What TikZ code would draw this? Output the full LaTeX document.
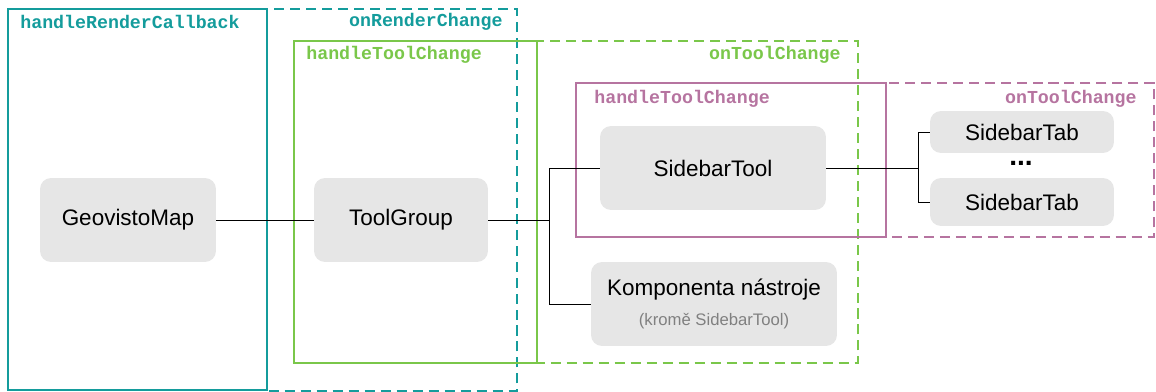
\documentclass[tikz,border=0pt]{standalone}
\usepackage{fontspec}
\setmainfont{Liberation Sans}
\setmonofont{Liberation Mono}
\usetikzlibrary{positioning}

\definecolor{tealc}{HTML}{149C9C}
\definecolor{greenc}{HTML}{7AC74A}
\definecolor{purplec}{HTML}{B674A0}
\definecolor{boxfill}{HTML}{E6E6E6}

\tikzset{
	comp/.style={rectangle, rounded corners=0.22cm, fill=boxfill, font=\fontsize{12.8}{14}\selectfont, inner sep=0pt},
	scopebox/.style={line width=1.1pt},
	scopedash/.style={line width=1.1pt, dash pattern=on 5.7pt off 3.4pt},
	fname/.style={font=\ttfamily\bfseries\fontsize{10.4}{12}\selectfont, inner sep=0pt},
}

\begin{document}
\begin{tikzpicture}[x=0.02cm, y=-0.02cm]
			\useasboundingbox (0,0) rectangle (1156,392);
			\draw[scopedash, tealc] (267,9) rectangle (517,391);
			\draw[scopebox, tealc] (8,9) rectangle (267,390);
			\draw[scopedash, greenc] (537,41) rectangle (858,363);
			\draw[scopebox, greenc] (294,41) rectangle (537,363);
			\draw[scopedash, purplec] (886,83) rectangle (1154,237);
			\draw[scopebox, purplec] (576,83) rectangle (886,237);
			\node[fname, tealc, anchor=west] (renderCb) at (20,22) {handleRenderCallback};
			\node[fname, tealc, anchor=east] (renderChg) at (503,22) {onRenderChange};
			\node[fname, greenc, anchor=west] (toolHandle) at (306,55) {handleToolChange};
			\node[fname, greenc, anchor=east] (toolChg) at (841,55) {onToolChange};
			\node[fname, purplec, anchor=west] (sbHandle) at (594,99) {handleToolChange};
			\node[fname, purplec, anchor=east] (sbChg) at (1137,99) {onToolChange};
			\node[comp, minimum width=3.52cm, minimum height=1.68cm] (Geo) at (128,220) {GeovistoMap};
			\node[comp, minimum width=3.48cm, minimum height=1.68cm] (TG) at (401,220) {ToolGroup};
			\node[comp, minimum width=4.52cm, minimum height=1.68cm] (SBT) at (713,168) {SidebarTool};
			\node[comp, minimum width=4.92cm, minimum height=1.68cm, align=center] (Komp) at (714,304) {Komponenta nástroje\\[3pt]{\fontsize{9.5}{11}\selectfont\color{gray}(kromě SidebarTool)}};
			\node[comp, minimum width=3.68cm, minimum height=0.84cm] (TabA) at (1022,132) {SidebarTab};
			\node[comp, minimum width=3.68cm, minimum height=0.96cm] (TabB) at (1022,202) {SidebarTab};
			\node[anchor=base, font=\bfseries\fontsize{16}{18}\selectfont, inner sep=0pt] (Dots) at (1021,165) {...};
			\coordinate (J1) at (549,220);
			\coordinate (J2) at (918,168);
			\draw[thin] (Geo) -- (TG);
			\draw[thin] (TG.east) -- (J1) |- (SBT.west);
			\draw[thin] (J1) |- (Komp.west);
			\draw[thin] (SBT.east) -- (J2) |- (TabA.west);
			\draw[thin] (J2) |- (TabB.west);
		\end{tikzpicture}
\end{document}
